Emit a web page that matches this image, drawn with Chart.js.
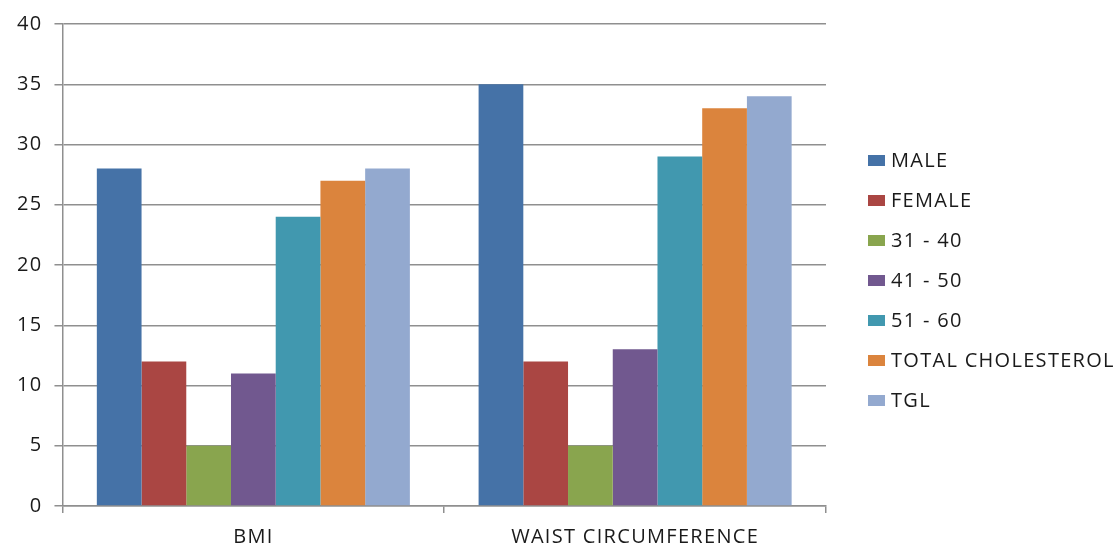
<!DOCTYPE html>
<html>
<head>
<meta charset="utf-8">
<script src="https://cdn.jsdelivr.net/npm/chart.js@4.4.1/dist/chart.umd.min.js"></script>
<style>
  html, body { margin: 0; padding: 0; background: #ffffff; }
  #wrap { width: 1120px; height: 543px; position: relative; }
</style>
</head>
<body>
<div id="wrap"><canvas id="chart"></canvas></div>
<script>
// Categories on the x axis
const categories = ['BMI', 'WAIST CIRCUMFERENCE'];

// One series per group
const male        = [28, 35];
const female      = [12, 12];
const age31to40   = [5, 5];
const age41to50   = [11, 13];
const age51to60   = [24, 29];
const totalChol   = [27, 33];
const tgl         = [28, 34];

const seriesNames = ['MALE', 'FEMALE', '31 - 40', '41 - 50', '51 - 60', 'TOTAL CHOLESTEROL', 'TGL'];
const seriesData  = [male, female, age31to40, age41to50, age51to60, totalChol, tgl];
const seriesColors = ['#4572A7', '#AA4643', '#89A54E', '#71588F', '#4198AF', '#DB843D', '#93A9CF'];

// Y axis ticks
const yTicks = [0, 5, 10, 15, 20, 25, 30, 35, 40];

const FONT_FAMILY = "'Open Sans', sans-serif";
const FONT_SIZE = 20;
const TEXT = '#1a1a1a';
const GRID = '#8f8f8f';
const SPACING = '1.3px';

const datasets = seriesNames.map((name, i) => ({
  label: name,
  data: seriesData[i],
  backgroundColor: seriesColors[i],
  borderWidth: 0,
  categoryPercentage: 0.82,
  barPercentage: 1.0
}));

// Slightly wider letter spacing for all canvas text
const spacingPlugin = {
  id: 'spacing',
  beforeUpdate(chart) { chart.ctx.letterSpacing = SPACING; },
  beforeDraw(chart) { chart.ctx.letterSpacing = SPACING; }
};

// Legend column to the right of the plot
const sideLegend = {
  id: 'sideLegend',
  afterDraw(chart) {
    const ctx = chart.ctx;
    const boxX = 868, boxW = 17, boxH = 11, textX = 891;
    const firstY = 160.5, step = 40;
    ctx.save();
    ctx.letterSpacing = SPACING;
    ctx.font = `${FONT_SIZE}px ${FONT_FAMILY}`;
    ctx.textBaseline = 'middle';
    ctx.textAlign = 'left';
    chart.data.datasets.forEach((ds, i) => {
      const y = firstY + i * step;
      ctx.fillStyle = ds.backgroundColor;
      ctx.fillRect(boxX, y - boxH / 2, boxW, boxH);
      ctx.fillStyle = TEXT;
      ctx.fillText(ds.label, textX, y + 1);
    });
    ctx.restore();
  }
};

new Chart(document.getElementById('chart'), {
  type: 'bar',
  data: { labels: categories, datasets },
  plugins: [spacingPlugin, sideLegend],
  options: {
    responsive: true,
    maintainAspectRatio: false,
    animation: false,
    layout: { padding: { left: 5, top: 19, right: 294, bottom: 0 } },
    plugins: {
      tooltip: { enabled: false },
      legend: { display: false }
    },
    scales: {
      x: {
        afterFit: (scale) => { scale.height = 37; },
        grid: {
          offset: true,
          drawOnChartArea: false,
          drawTicks: true,
          tickLength: 7,
          color: GRID,
          lineWidth: 1.5
        },
        border: { color: GRID, width: 1.5 },
        ticks: {
          color: TEXT,
          padding: 12,
          font: { family: FONT_FAMILY, size: FONT_SIZE },
          maxRotation: 0
        }
      },
      y: {
        min: 0,
        max: 40,
        afterBuildTicks: (axis) => { axis.ticks = yTicks.map(v => ({ value: v })); },
        grid: {
          color: GRID,
          lineWidth: 1.5,
          tickLength: 8
        },
        border: { color: GRID, width: 1.5 },
        ticks: {
          color: TEXT,
          padding: 12,
          font: { family: FONT_FAMILY, size: FONT_SIZE }
        }
      }
    }
  }
});
</script>
</body>
</html>
